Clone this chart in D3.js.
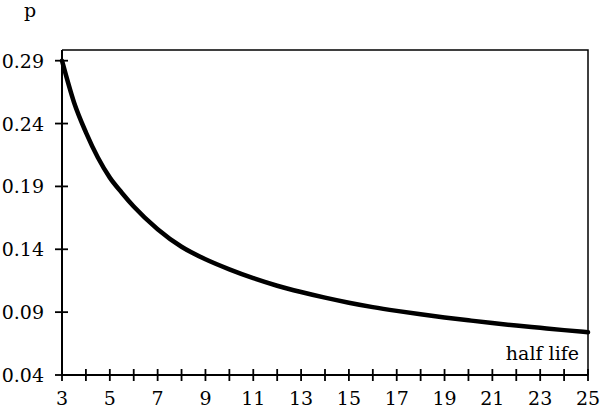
<!DOCTYPE html>
<html lang="en">
  <head>
    <meta charset="UTF-8" />
    <title>p vs half life</title>
    <style>
      body { margin: 0; background: #fff; }
      text { font-family: "DejaVu Serif", "Liberation Serif", serif; fill: #000; }
    </style>
  </head>
  <body>
    <div class="chart"></div>
    <script src="https://d3js.org/d3.v7.min.js"></script>
    <script>
      // half life (x) and p (y)
      const halfLife = [3, 3.5, 4, 4.5, 5, 5.5, 6, 7, 8, 9, 10, 11, 12, 13, 14, 15, 16, 17, 18, 19, 20, 21, 22, 23, 24, 25];
      const pValues = [0.29, 0.257, 0.233, 0.213, 0.197, 0.185, 0.174, 0.156, 0.142, 0.132, 0.124, 0.117, 0.111, 0.106, 0.1015, 0.0975, 0.094, 0.091, 0.0883, 0.0858, 0.0835, 0.0813, 0.0793, 0.0775, 0.0757, 0.074];
      const xTickLabels = [3, 5, 7, 9, 11, 13, 15, 17, 19, 21, 23, 25];
      const yTickLabels = [0.04, 0.09, 0.14, 0.19, 0.24, 0.29];

      const width = 600;
      const height = 415;
      const mLeft = 62, mRight = 588, mTop = 50, mBottom = 375;

      const svg = d3
        .select(".chart")
        .append("svg")
        .attr("width", width)
        .attr("height", height);

      const x = d3.scaleLinear().domain([3, 25]).range([mLeft, mRight]);
      const y = d3.scaleLinear().domain([0.04, 0.2985]).range([mBottom, mTop]);

      // frame (top and right)
      svg.append("path")
        .attr("d", `M${mLeft},${mTop}H${mRight}V${mBottom}`)
        .attr("fill", "none")
        .attr("stroke", "#000")
        .attr("stroke-width", 1.5);

      // x axis: tick every unit, label every two
      const xAxis = svg.append("g").attr("transform", `translate(0,${mBottom})`);
      xAxis.append("line")
        .attr("x1", mLeft).attr("x2", mRight)
        .attr("stroke", "#000").attr("stroke-width", 2);
      xAxis.selectAll("line.tick")
        .data(d3.range(3, 26))
        .join("line")
        .attr("class", "tick")
        .attr("x1", (d) => x(d)).attr("x2", (d) => x(d))
        .attr("y1", -6).attr("y2", 6)
        .attr("stroke", "#000").attr("stroke-width", 1.8);
      xAxis.selectAll("text")
        .data(xTickLabels)
        .join("text")
        .attr("x", (d) => x(d))
        .attr("y", 30)
        .attr("text-anchor", "middle")
        .style("font-size", "19px")
        .text((d) => d);

      // y axis
      const yAxis = svg.append("g");
      yAxis.append("line")
        .attr("x1", mLeft).attr("x2", mLeft)
        .attr("y1", mTop).attr("y2", mBottom)
        .attr("stroke", "#000").attr("stroke-width", 2);
      yAxis.selectAll("line.tick")
        .data(yTickLabels)
        .join("line")
        .attr("class", "tick")
        .attr("x1", mLeft - 7).attr("x2", mLeft + 6)
        .attr("y1", (d) => y(d)).attr("y2", (d) => y(d))
        .attr("stroke", "#000").attr("stroke-width", 1.8);
      yAxis.selectAll("text")
        .data(yTickLabels)
        .join("text")
        .attr("x", 44)
        .attr("y", (d) => y(d) + 7)
        .attr("text-anchor", "end")
        .style("font-size", "19px")
        .text((d) => d3.format(".2f")(d));

      // axis titles
      svg.append("text")
        .attr("x", 30).attr("y", 17)
        .attr("text-anchor", "middle")
        .style("font-size", "19px")
        .text("p");
      svg.append("text")
        .attr("x", 579).attr("y", 360)
        .attr("text-anchor", "end")
        .style("font-size", "19px")
        .text("half life");

      // curve
      const line = d3.line()
        .x((d, i) => x(halfLife[i]))
        .y((d) => y(d))
        .curve(d3.curveMonotoneX);

      svg.append("path")
        .datum(pValues)
        .attr("d", line)
        .attr("fill", "none")
        .attr("stroke", "#000")
        .attr("stroke-width", 4.5)
        .attr("stroke-linecap", "round");
    </script>
  </body>
</html>
